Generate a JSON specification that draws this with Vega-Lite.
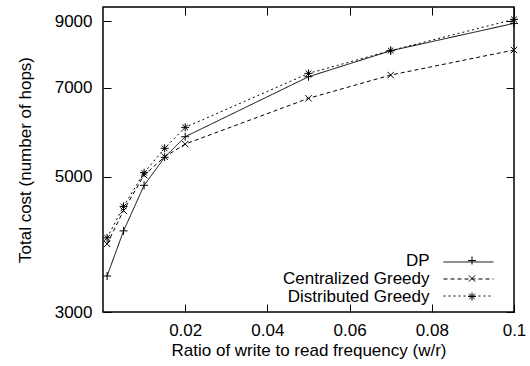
{
  "$schema": "https://vega.github.io/schema/vega-lite/v6.json",
  "width": 411,
  "height": 305,
  "autosize": {"type": "none"},
  "padding": {"left": 103, "top": 7, "right": 16, "bottom": 54},
  "background": "white",
  "config": {
    "font": "Liberation Sans",
    "view": {"stroke": "black", "strokeWidth": 1.5},
    "axis": {
      "labelFontSize": 17, "titleFontSize": 17, "titleFontWeight": "normal",
      "labelColor": "black", "titleColor": "black", "tickColor": "black",
      "domain": false, "grid": false, "labelFlush": false, "labelOverlap": false,
      "tickSize": -8, "tickWidth": 1
    },
    "legend": {"labelFontSize": 17, "labelColor": "black", "padding": 0, "rowPadding": 0}
  },
  "data": {
    "values": [
      {"series": "DP", "ratio": 0.001, "cost": 3437},
      {"series": "DP", "ratio": 0.005, "cost": 4075},
      {"series": "DP", "ratio": 0.01, "cost": 4840},
      {"series": "DP", "ratio": 0.015, "cost": 5380},
      {"series": "DP", "ratio": 0.02, "cost": 5815},
      {"series": "DP", "ratio": 0.05, "cost": 7293},
      {"series": "DP", "ratio": 0.07, "cost": 8045},
      {"series": "DP", "ratio": 0.1, "cost": 8921},
      {"series": "Centralized Greedy", "ratio": 0.001, "cost": 3880},
      {"series": "Centralized Greedy", "ratio": 0.005, "cost": 4400},
      {"series": "Centralized Greedy", "ratio": 0.01, "cost": 5030},
      {"series": "Centralized Greedy", "ratio": 0.015, "cost": 5390},
      {"series": "Centralized Greedy", "ratio": 0.02, "cost": 5656},
      {"series": "Centralized Greedy", "ratio": 0.05, "cost": 6722},
      {"series": "Centralized Greedy", "ratio": 0.07, "cost": 7340},
      {"series": "Centralized Greedy", "ratio": 0.1, "cost": 8067},
      {"series": "Distributed Greedy", "ratio": 0.001, "cost": 3970},
      {"series": "Distributed Greedy", "ratio": 0.005, "cost": 4470},
      {"series": "Distributed Greedy", "ratio": 0.01, "cost": 5076},
      {"series": "Distributed Greedy", "ratio": 0.015, "cost": 5566},
      {"series": "Distributed Greedy", "ratio": 0.02, "cost": 6024},
      {"series": "Distributed Greedy", "ratio": 0.05, "cost": 7386},
      {"series": "Distributed Greedy", "ratio": 0.07, "cost": 8050},
      {"series": "Distributed Greedy", "ratio": 0.1, "cost": 9057}
    ]
  },
  "layer": [
    {
      "mark": {"type": "line", "strokeWidth": 1, "color": "black"},
      "encoding": {
        "x": {
          "field": "ratio", "type": "quantitative",
          "scale": {"domain": [0, 0.1], "nice": false, "zero": false},
          "axis": {
            "orient": "bottom", "values": [0.02, 0.04, 0.06, 0.08, 0.1],
            "format": ".2~f", "labelPadding": 18,
            "title": "Ratio of write to read frequency (w/r)", "titlePadding": 4
          }
        },
        "y": {
          "field": "cost", "type": "quantitative",
          "scale": {"type": "log", "domain": [3000, 9490], "nice": false},
          "axis": {
            "orient": "left", "values": [3000, 5000, 7000, 9000],
            "format": "d", "labelPadding": 19,
            "title": "Total cost (number of hops)", "titlePadding": 20
          }
        },
        "strokeDash": {
          "field": "series", "type": "nominal",
          "sort": ["DP", "Centralized Greedy", "Distributed Greedy"],
          "scale": {"range": [[1, 0], [4, 3], [2, 3]]},
          "legend": {
            "orient": "none", "legendX": 364, "legendY": 253.5, "title": null,
            "symbolType": "M-25,0L25,0", "symbolSize": 4, "symbolStrokeWidth": 1,
            "symbolStrokeColor": "black", "labelExpr": "''", "labelFontSize": 1,
            "rowPadding": 12, "symbolOffset": 0
          }
        }
      }
    },
    {
      "mark": {"type": "point", "filled": false, "color": "black", "strokeWidth": 1, "size": 64, "opacity": 1},
      "encoding": {
        "x": {
          "field": "ratio", "type": "quantitative",
          "axis": {"orient": "top", "values": [0.02, 0.04, 0.06, 0.08, 0.1], "labels": false, "title": null}
        },
        "y": {
          "field": "cost", "type": "quantitative",
          "axis": {"orient": "right", "values": [3000, 5000, 7000, 9000], "labels": false, "title": null}
        },
        "shape": {
          "field": "series", "type": "nominal",
          "scale": {
            "domain": ["DP", "Centralized Greedy", "Distributed Greedy"],
            "range": [
              "M-1,0L1,0M0,-1L0,1",
              "M-0.8,-0.8L0.8,0.8M-0.8,0.8L0.8,-0.8",
              "M-1,0L1,0M0,-1L0,1M-0.7,-0.7L0.7,0.7M-0.7,0.7L0.7,-0.7"
            ]
          },
          "legend": {
            "orient": "none", "legendX": 360.5, "legendY": 245, "title": null,
            "symbolSize": 64, "symbolStrokeWidth": 1, "symbolStrokeColor": "black",
            "symbolFillColor": "white", "labelAlign": "right",
            "labelOffset": -51, "symbolOffset": 0
          }
        }
      }
    }
  ],
  "resolve": {"axis": {"x": "independent", "y": "independent"}}
}
